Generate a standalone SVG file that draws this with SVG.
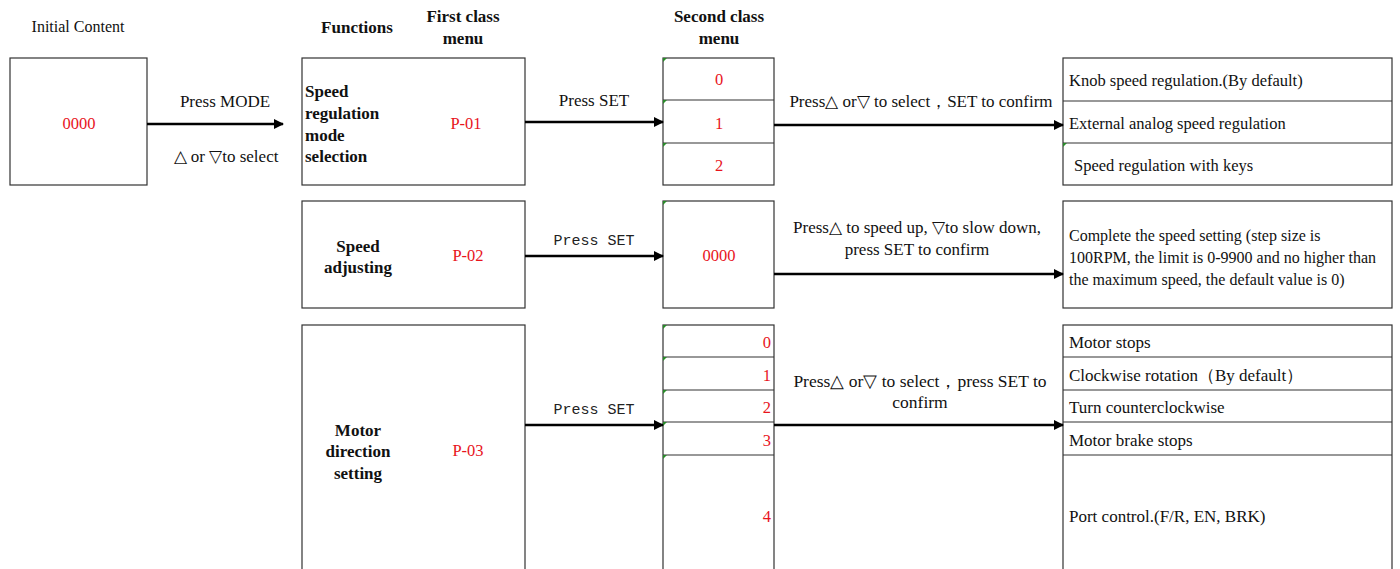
<svg xmlns="http://www.w3.org/2000/svg" width="1400" height="569" viewBox="0 0 1400 569">
<style>
text{font-family:"Liberation Serif","Times New Roman",serif;font-size:17px;fill:#111}
.b{font-weight:bold}
.r{fill:#e8141c;font-size:16.5px}
.m{font-family:"Liberation Mono","DejaVu Sans Mono",monospace;font-size:15px;fill:#222}
.c{text-anchor:middle}
.e{text-anchor:end}
.t1{font-size:16.5px}
.t2{font-size:16px}
.box{fill:#fff;stroke:#333;stroke-width:1.2}
.ln{stroke:#333;stroke-width:1.2}
.ar{stroke:#000;stroke-width:2.6;fill:none}
.g{fill:#2a8a2a}
</style>
<defs>
<marker id="ah" markerWidth="10" markerHeight="10" refX="9" refY="5" orient="auto" markerUnits="userSpaceOnUse">
<path d="M0,0 L10,5 L0,10 Z" fill="#000"/>
</marker>
</defs>
<rect width="1400" height="569" fill="#fff"/>
<g id="headers">
<text class="c" x="78" y="32" style="font-size:16px">Initial Content</text>
<text class="c b" x="357" y="33">Functions</text>
<text class="c b" x="463" y="22">First class</text>
<text class="c b" x="463" y="44">menu</text>
<text class="c b" x="719" y="22">Second class</text>
<text class="c b" x="719" y="44">menu</text>
</g>
<g id="initial">
<rect class="box" x="10" y="58" width="137" height="127"/>
<text class="c r" x="79" y="129">0000</text>
</g>
<g id="f1">
<rect class="box" x="302" y="58" width="223" height="127"/>
<text class="b" x="305" y="97">Speed</text>
<text class="b" x="305" y="119">regulation</text>
<text class="b" x="305" y="141">mode</text>
<text class="b" x="305" y="162">selection</text>
<text class="c r" x="466" y="129">P-01</text>
</g>
<g id="s1">
<rect class="box" x="663" y="58" width="111" height="127"/>
<line class="ln" x1="663" y1="100" x2="774" y2="100"/>
<line class="ln" x1="663" y1="143" x2="774" y2="143"/>
<text class="c r" x="719" y="85">0</text>
<text class="c r" x="719" y="129">1</text>
<text class="c r" x="719" y="171">2</text>
<polygon class="g" points="663,58 667,58 663,62"/>
<polygon class="g" points="663,100 667,100 663,104"/>
<polygon class="g" points="663,143 667,143 663,147"/>
</g>
<g id="o1">
<rect class="box" x="1063" y="58" width="329" height="127"/>
<line class="ln" x1="1063" y1="101" x2="1392" y2="101"/>
<line class="ln" x1="1063" y1="143" x2="1392" y2="143"/>
<text class="t1" x="1069" y="86">Knob speed regulation.(By default)</text>
<text class="t1" x="1069" y="129">External analog speed regulation</text>
<text class="t1" x="1074" y="171">Speed regulation with keys</text>
<polygon class="g" points="1063,143 1067,143 1063,147"/>
</g>
<g id="f2">
<rect class="box" x="302" y="201" width="223" height="107"/>
<text class="c b" x="358" y="252">Speed</text>
<text class="c b" x="358" y="273">adjusting</text>
<text class="c r" x="468" y="261">P-02</text>
</g>
<g id="s2">
<rect class="box" x="663" y="201" width="111" height="107"/>
<text class="c r" x="719" y="261">0000</text>
<polygon class="g" points="663,201 667,201 663,205"/>
</g>
<g id="o2">
<rect class="box" x="1063" y="201" width="329" height="107"/>
<text class="t2" x="1069" y="241">Complete the speed setting (step size is</text>
<text class="t2" x="1069" y="263">100RPM, the limit is 0-9900 and no higher than</text>
<text class="t2" x="1069" y="285">the maximum speed, the default value is 0)</text>
</g>
<g id="f3">
<rect class="box" x="302" y="325" width="223" height="260"/>
<text class="c b" x="358" y="436">Motor</text>
<text class="c b" x="358" y="457">direction</text>
<text class="c b" x="358" y="479">setting</text>
<text class="c r" x="468" y="456">P-03</text>
</g>
<g id="s3">
<rect class="box" x="663" y="325" width="111" height="260"/>
<line class="ln" x1="663" y1="357" x2="774" y2="357"/>
<line class="ln" x1="663" y1="390" x2="774" y2="390"/>
<line class="ln" x1="663" y1="422" x2="774" y2="422"/>
<line class="ln" x1="663" y1="455" x2="774" y2="455"/>
<text class="e r" x="771" y="348">0</text>
<text class="e r" x="771" y="381">1</text>
<text class="e r" x="771" y="413">2</text>
<text class="e r" x="771" y="446">3</text>
<text class="e r" x="771" y="522">4</text>
<polygon class="g" points="663,325 667,325 663,329"/>
<polygon class="g" points="663,357 667,357 663,361"/>
<polygon class="g" points="663,390 667,390 663,394"/>
<polygon class="g" points="663,422 667,422 663,426"/>
<polygon class="g" points="663,455 667,455 663,459"/>
</g>
<g id="o3">
<rect class="box" x="1063" y="325" width="329" height="260"/>
<line class="ln" x1="1063" y1="357" x2="1392" y2="357"/>
<line class="ln" x1="1063" y1="390" x2="1392" y2="390"/>
<line class="ln" x1="1063" y1="422" x2="1392" y2="422"/>
<line class="ln" x1="1063" y1="455" x2="1392" y2="455"/>
<text x="1069" y="348">Motor stops</text>
<text x="1069" y="381">Clockwise rotation（By default）</text>
<text x="1069" y="413">Turn counterclockwise</text>
<text x="1069" y="446">Motor brake stops</text>
<text x="1069" y="522">Port control.(F/R, EN, BRK)</text>
</g>
<g id="connectors">
<line class="ar" x1="147" y1="124" x2="283" y2="124" marker-end="url(#ah)"/>
<text class="c" x="225" y="107">Press MODE</text>
<text class="c" x="226" y="162">△ or ▽to select</text>
<line class="ar" x1="525" y1="122" x2="663" y2="122" marker-end="url(#ah)"/>
<text class="c" x="594" y="106">Press SET</text>
<line class="ar" x1="774" y1="125" x2="1063" y2="125" marker-end="url(#ah)"/>
<text class="c" x="921" y="107">Press△ or▽ to select，SET to confirm</text>
<line class="ar" x1="525" y1="256" x2="663" y2="256" marker-end="url(#ah)"/>
<text class="c m" x="594" y="245">Press SET</text>
<line class="ar" x1="774" y1="274" x2="1063" y2="274" marker-end="url(#ah)"/>
<text class="c" x="917" y="233">Press△ to speed up, ▽to slow down,</text>
<text class="c" x="917" y="255">press SET to confirm</text>
<line class="ar" x1="525" y1="425" x2="663" y2="425" marker-end="url(#ah)"/>
<text class="c m" x="594" y="414">Press SET</text>
<line class="ar" x1="774" y1="425" x2="1063" y2="425" marker-end="url(#ah)"/>
<text class="c" x="920" y="387" style="font-size:17.5px">Press△ or▽ to select，press SET to</text>
<text class="c" x="920" y="408" style="font-size:17.5px">confirm</text>
</g>
</svg>
